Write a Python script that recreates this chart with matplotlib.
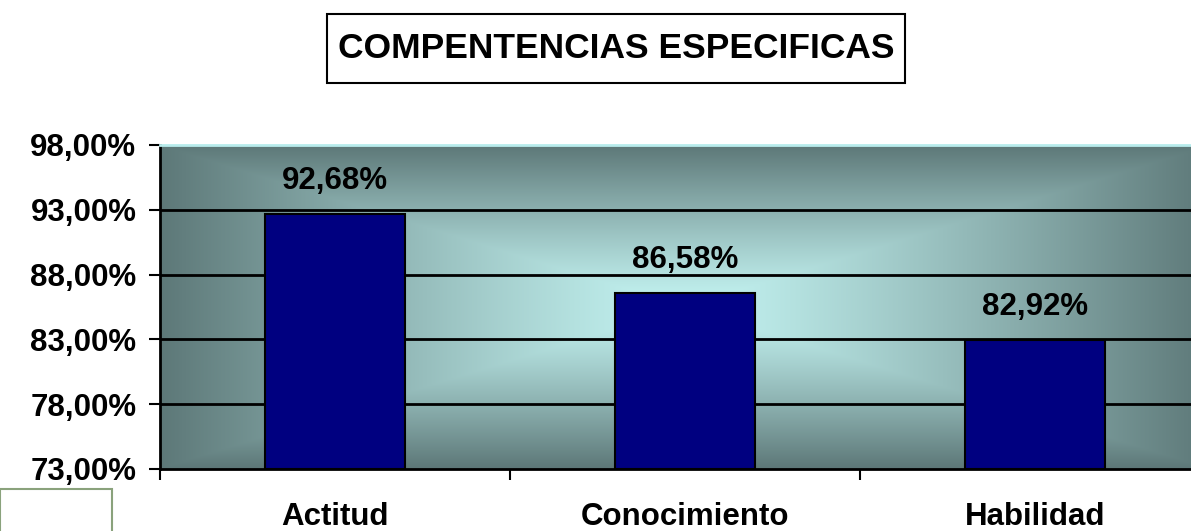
import numpy as np
import matplotlib.pyplot as plt
from matplotlib.patches import Rectangle
from matplotlib.colors import to_rgb

categories = ['Actitud', 'Conocimiento', 'Habilidad']
values = [92.68, 86.58, 82.92]
value_labels = ['92,68%', '86,58%', '82,92%']
yticks = [73, 78, 83, 88, 93, 98]
ytick_labels = ['73,00%', '78,00%', '83,00%', '88,00%', '93,00%', '98,00%']
title = 'COMPENTENCIAS ESPECIFICAS'

plt.rcParams['font.family'] = ['Liberation Sans', 'DejaVu Sans']
plt.rcParams['font.weight'] = 'bold'

W, H = 1191, 531
fig = plt.figure(figsize=(W / 100, H / 100), dpi=100)
ax = fig.add_axes([160 / W, 62 / H, 1050 / W, 324 / H])

x = np.arange(len(categories))
ax.set_xlim(-0.5, len(categories) - 0.5)
ax.set_ylim(73, 98)

# rectangular "from centre" gradient background
ny, nx = 200, 600
yy, xx = np.mgrid[-1:1:ny * 1j, -1:1:nx * 1j]
t = np.maximum(np.abs(xx), np.abs(yy))
t = np.clip(t, 0, 1) ** 1.2
c0 = np.array(to_rgb('#c4f4f2'))
c1 = np.array(to_rgb('#5d7878'))
img = c0[None, None, :] * (1 - t[..., None]) + c1[None, None, :] * t[..., None]
ax.imshow(img, extent=(-0.5, len(categories) - 0.5, 73, 98), aspect='auto',
          zorder=0, interpolation='bilinear')

for y in yticks[1:-1]:
    ax.axhline(y, color='black', lw=2, zorder=1)

ax.bar(x, np.array(values) - 73, bottom=73, width=0.4, color='#000080',
       edgecolor='black', lw=1.5, zorder=2)

for xi, v, lab in zip(x, values, value_labels):
    ax.annotate(lab, (xi, v), xytext=(0, 13), textcoords='offset points',
                ha='center', va='bottom', fontsize=22.5, fontweight='bold')

ax.set_yticks(yticks)
ax.set_yticklabels(ytick_labels)
ax.set_xticks(x)
ax.set_xticklabels(categories)
ax.set_xticks(np.arange(-0.5, len(categories)), minor=True)
ax.tick_params(axis='x', which='major', length=0, pad=24, labelsize=22.5)
ax.tick_params(axis='x', which='minor', length=8, width=1.5, direction='out')
ax.tick_params(axis='y', length=8, width=1.5, direction='out', pad=9, labelsize=22.5)

for s in ['left', 'bottom']:
    ax.spines[s].set_linewidth(2)
ax.spines['right'].set_visible(False)
ax.spines['top'].set_color('#b8ecec')
ax.spines['top'].set_linewidth(2)

# title in a box
fig.text(616 / W, 1 - 49 / H, title, ha='center', va='center', fontsize=25.5,
         fontweight='bold')
fig.patches.append(Rectangle((327 / W, 1 - 83 / H), 578 / W, 69 / H,
                             transform=fig.transFigure, fill=False,
                             ec='black', lw=1.5))

# partial legend box at the bottom-left
fig.patches.append(Rectangle((0, -0.05), 112 / W, 0.05 + 42 / H,
                             transform=fig.transFigure, fill=False,
                             ec='#8aa27c', lw=1.5))

plt.savefig('out.png', dpi=100)
